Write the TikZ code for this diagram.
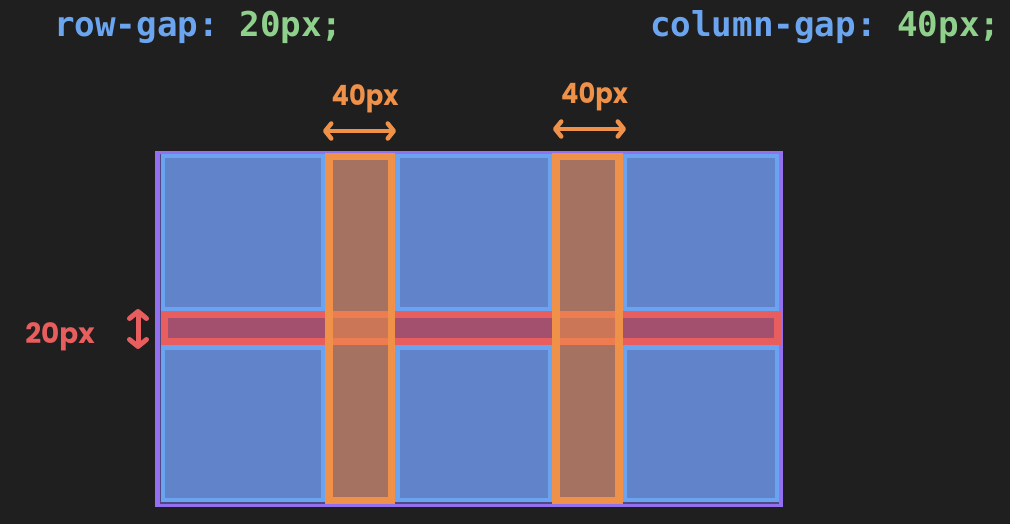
\documentclass[tikz,border=0pt]{standalone}
\usepackage{fontspec}
\usetikzlibrary{arrows.meta}
\newfontfamily\codefont{DejaVu Sans Mono}
\newfontfamily\handfont{Poppins}
\definecolor{bgc}{HTML}{1F1F1F}
\definecolor{cblue}{HTML}{6CA5EF}
\definecolor{cgreen}{HTML}{8FD18C}
\definecolor{cpurple}{HTML}{9370F0}
\definecolor{cunder}{HTML}{4F4883}
\definecolor{cellb}{HTML}{6AA3F0}
\definecolor{cellf}{HTML}{6183CA}
\definecolor{corange}{HTML}{F0914A}
\definecolor{corangef}{HTML}{F39846}
\definecolor{cred}{HTML}{E85E5E}
\definecolor{credf}{HTML}{A2506E}
\tikzset{
  codetxt/.style={font=\frenchspacing\codefont\bfseries\fontsize{34.2}{40}\selectfont, inner sep=0pt, anchor=base west},
  handtxt/.style={font=\handfont\bfseries\fontsize{28}{32}\selectfont, inner sep=0pt, anchor=base, xscale=0.92, transform shape},
  cellbox/.style={draw=cellb, fill=cellf, line width=4.5pt, inner sep=0pt, outer sep=0pt,
    minimum width=152.5pt, minimum height=152.5pt},
  colgap/.style={draw=corange, fill=corangef, fill opacity=0.53, draw opacity=1, line width=7.5pt,
    inner sep=0pt, outer sep=0pt, minimum width=62.5pt, minimum height=343.5pt},
  rowgapbox/.style={draw=cred, fill=credf, line width=7pt, inner sep=0pt, outer sep=0pt,
    minimum width=613.5pt, minimum height=27pt},
  harrow/.style={line width=4.5pt, line cap=round,
    {Straight Barb[round,length=6pt,width=15pt]}-{Straight Barb[round,length=6pt,width=15pt]}},
  varrow/.style={line width=5pt, line cap=round,
    {Straight Barb[round,length=7pt,width=17pt]}-{Straight Barb[round,length=7pt,width=17pt]}}
}
\begin{document}
\begin{tikzpicture}[x=1pt,y=-1pt]
\fill[bgc] (0,0) rectangle (1010,524);
\useasboundingbox (0,0) rectangle (1010,524);

% header texts
\node[codetxt] (rowgap) at (54,37) {\textcolor{cblue}{row-gap:} \textcolor{cgreen}{20px;}};
\node[codetxt] (colgap) at (650,37) {\textcolor{cblue}{column-gap:} \textcolor{cgreen}{40px;}};

% container
\fill[cpurple] (155,151) rectangle (783,507);
\fill[cunder] (160,154) rectangle (779,503.5);

% cells
\node[cellbox, minimum width=160pt] (c11) at (242.75,232.5) {};
\node[cellbox] (c12) at (473.5,232.5) {};
\node[cellbox] (c13) at (700.5,232.5) {};
\node[cellbox, minimum width=160pt] (c21) at (242.75,423.5) {};
\node[cellbox] (c22) at (473.5,423.5) {};
\node[cellbox] (c23) at (700.5,423.5) {};

% row gap
\node[rowgapbox] (rg) at (470.75,328) {};

% column gaps
\node[colgap] (cg1) at (360,328.5) {};
\node[colgap, minimum width=63pt] (cg2) at (587.25,328.5) {};

% labels
\node[handtxt, text=corange] (l40a) at (365,106) {40px};
\node[handtxt, text=corange] (l40b) at (594.5,104) {40px};
\node[handtxt, text=cred, xscale=1.08] (l20) at (60,343) {20px};

% arrows
\coordinate (a1l) at (323,131);
\coordinate (a1r) at (396,131);
\coordinate (a2l) at (553,129);
\coordinate (a2r) at (626,129);
\coordinate (a3t) at (138,309);
\coordinate (a3b) at (138,349);
\draw[harrow, corange] (a1l) -- (a1r);
\draw[harrow, corange] (a2l) -- (a2r);
\draw[varrow, cred] (a3t) -- (a3b);
\end{tikzpicture}
\end{document}
